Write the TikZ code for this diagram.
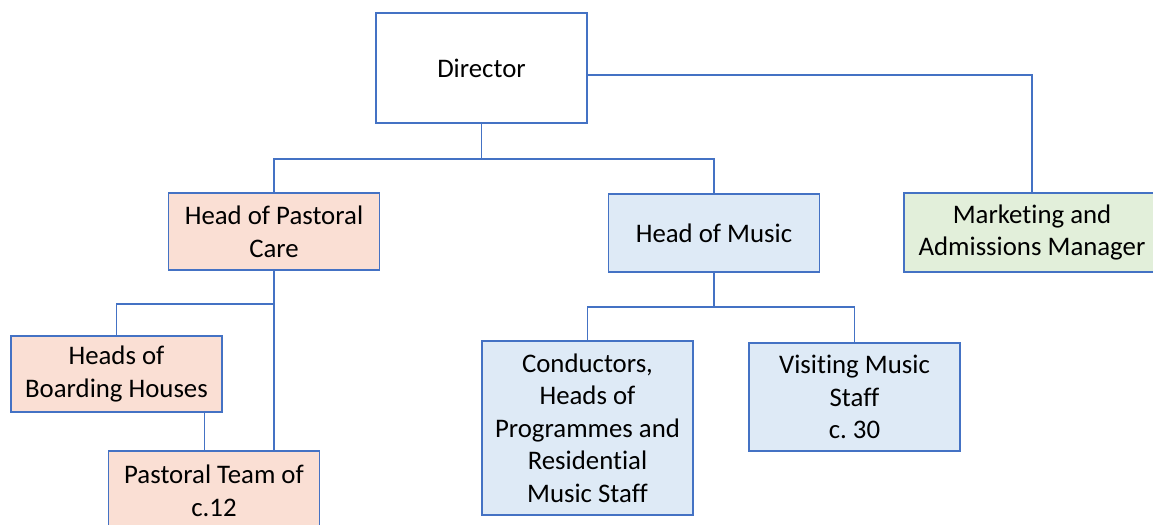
\documentclass[tikz,border=0pt]{standalone}
\usepackage{fontspec}
\setmainfont{Carlito}[Ligatures=NoCommon]
\frenchspacing
\definecolor{boxline}{HTML}{4472C4}
\definecolor{pastoral}{HTML}{FADFD4}
\definecolor{music}{HTML}{DEEAF6}
\definecolor{office}{HTML}{E2EFDA}

\begin{document}
\begin{tikzpicture}[x=0.5pt, y=-0.5pt,
  post/.style={draw=boxline, line width=0.9pt, align=center, inner sep=0pt,
    minimum width=105.5pt, font=\fontsize{13.4}{16.3}\selectfont},
  link/.style={draw=boxline, line width=0.9pt}]

\useasboundingbox (0,0) rectangle (1153,525);

\node[post, fill=white, minimum height=55pt] (dir) at (481.5,68) {Director};
\node[post, fill=pastoral, minimum height=38.5pt] (pc) at (274,231.5)
{Head of Pastoral\\Care};
\node[post, fill=music, minimum height=39pt] (hm) at (714,233) {Head of Music};
\node[post, fill=office, minimum width=128pt, minimum height=39.5pt] (mk) at (1032,232.5)
{Marketing and\\Admissions Manager};
\node[post, fill=pastoral, minimum height=38pt] (hb) at (116.5,374)
{Heads of\\Boarding Houses};
\node[post, fill=pastoral, minimum height=40pt] (pt) at (214,491)
{Pastoral Team of\\c.12};
\node[post, fill=music, minimum height=87pt] (cd) at (587.5,428)
{Conductors,\\Heads of\\Programmes and\\Residential\\Music Staff};
\node[post, fill=music, minimum height=54pt] (vm) at (854.5,397)
{Visiting Music\\Staff\\c. 30};

\begin{scope}[link]
\draw (dir.south) -- ++(0,35) -| (pc.north);
\draw (dir.south) ++(0,35) -| (hm.north);
\draw ([yshift=-3.5pt]dir.east) -| (mk.north);
\draw (pc.south) -- ++(0,33) -| (hb.north);
\draw (pc.south) -- (pc.south |- pt.north);
\draw ([xshift=44pt]hb.south) -- ([xshift=44pt]hb.south |- pt.north);
\draw (hm.south) -- ++(0,34) -| (cd.north);
\draw (hm.south) ++(0,34) -| (vm.north);
\end{scope}

\end{tikzpicture}
\end{document}
